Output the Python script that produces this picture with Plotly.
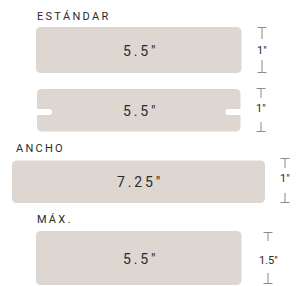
import plotly.graph_objects as go

# ---- data ----
groups = ["ESTÁNDAR", "", "ANCHO", "MÁX."]
widths_in = ["5.5\"", "5.5\"", "7.25\"", "5.5\""]
thick_in = ["1\"", "1\"", "1\"", "1.5\""]
grooved = [False, True, False, False]

# ---- layout geometry (pixels in a 303x286 canvas) ----
boxes = [  # x0, x1, y0, y1
    (36, 241.5, 27, 73),
    (37, 240.5, 89, 131.5),
    (12, 265, 160.5, 203),
    (36, 241.5, 231, 285),
]
label_pos = [(36, 16), None, (15, 148.5), (36, 219)]
dims = [  # x, top tick y0,y1, text y, bottom tick y0,y1
    (262, 27, 39, 50, 60, 73),
    (261, 88, 98, 108, 122, 132),
    (285, 158, 168, 178, 193, 203),
    (268, 232, 241, 260, 273, 284),
]

FILL = "#ddd6d1"
TXT = "#2b2b2b"
DIM = "#8a8a8a"
SP = "\u2009"


def spaced(s):
    return SP.join(list(s))


def rrect(x0, x1, y0, y1, r):
    return (f"M {x0+r},{y0} L {x1-r},{y0} Q {x1},{y0} {x1},{y0+r} "
            f"L {x1},{y1-r} Q {x1},{y1} {x1-r},{y1} L {x0+r},{y1} "
            f"Q {x0},{y1} {x0},{y1-r} L {x0},{y0+r} Q {x0},{y0} {x0+r},{y0} Z")


def grooved_rect(x0, x1, y0, y1, r, ny0, ny1, depth):
    nr = (ny1 - ny0) / 2
    return (f"M {x0+r},{y0} L {x1-r},{y0} Q {x1},{y0} {x1},{y0+r} "
            f"L {x1},{ny0} L {x1-depth+nr},{ny0} Q {x1-depth},{ny0} {x1-depth},{ny0+nr} "
            f"Q {x1-depth},{ny1} {x1-depth+nr},{ny1} L {x1},{ny1} "
            f"L {x1},{y1-r} Q {x1},{y1} {x1-r},{y1} L {x0+r},{y1} "
            f"Q {x0},{y1} {x0},{y1-r} L {x0},{ny1} L {x0+depth-nr},{ny1} "
            f"Q {x0+depth},{ny1} {x0+depth},{ny1-nr} Q {x0+depth},{ny0} {x0+depth-nr},{ny0} "
            f"L {x0},{ny0} L {x0},{y0+r} Q {x0},{y0} {x0+r},{y0} Z")


fig = go.Figure()
shapes = []
annotations = []
FONT = "Roboto"

for i in range(len(groups)):
    x0, x1, y0, y1 = boxes[i]
    if grooved[i]:
        path = grooved_rect(x0, x1, y0, y1, 5, 109, 115, 15)
    else:
        path = rrect(x0, x1, y0, y1, 5)
    shapes.append(dict(type="path", path=path, xref="x", yref="y",
                       fillcolor=FILL, line=dict(width=0), layer="below"))
    # width label
    annotations.append(dict(x=(x0 + x1) / 2, y=(y0 + y1) / 2 + 0.5, xref="x", yref="y",
                            text=spaced(widths_in[i]), showarrow=False,
                            font=dict(family=FONT, size=14, color=TXT),
                            xanchor="center", yanchor="middle"))
    # group label
    if groups[i] and label_pos[i]:
        lx, ly = label_pos[i]
        annotations.append(dict(x=lx - 1, y=ly, xref="x", yref="y",
                                text=spaced(groups[i]), showarrow=False,
                                font=dict(family=FONT, size=11, color=TXT),
                                xanchor="left", yanchor="middle"))
    # dimension marker
    dx, t0, t1, ty, b0, b1 = dims[i]
    line = dict(color=DIM, width=1)
    shapes += [
        dict(type="line", x0=dx - 4.5, x1=dx + 4.5, y0=t0 + 0.5, y1=t0 + 0.5, line=line),
        dict(type="line", x0=dx, x1=dx, y0=t0, y1=t1, line=line),
        dict(type="line", x0=dx - 4.5, x1=dx + 4.5, y0=b1 - 0.5, y1=b1 - 0.5, line=line),
        dict(type="line", x0=dx, x1=dx, y0=b0, y1=b1, line=line),
    ]
    annotations.append(dict(x=dx, y=ty, xref="x", yref="y",
                            text=thick_in[i], showarrow=False,
                            font=dict(family=FONT, size=11, color=TXT),
                            xanchor="center", yanchor="middle"))

fig.update_layout(
    width=303, height=286,
    margin=dict(l=0, r=0, t=0, b=0),
    paper_bgcolor="white", plot_bgcolor="white",
    xaxis=dict(range=[0, 303], visible=False, fixedrange=True),
    yaxis=dict(range=[286, 0], visible=False, fixedrange=True),
    shapes=shapes, annotations=annotations,
    showlegend=False,
)
fig.write_html(
    "out.html",
    config={"displayModeBar": False},
    post_script="document.body.style.margin='0';document.body.style.overflow='hidden';",
)
